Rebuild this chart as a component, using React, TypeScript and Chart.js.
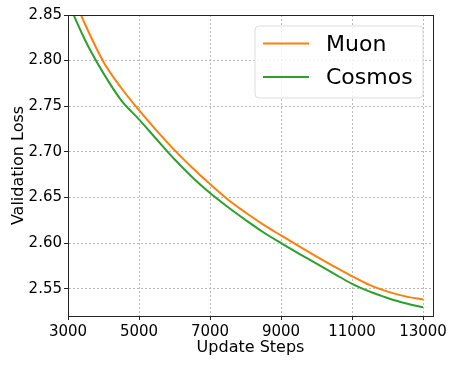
import React, { useEffect, useRef } from "react";
import { Chart, registerables } from "chart.js";

Chart.register(...registerables);

const steps = [3000, 3500, 4000, 4500, 5000, 5500, 6000, 6500, 7000, 7500, 8000, 8500, 9000, 9500, 10000, 10500, 11000, 11500, 12000, 12500, 13000];
const muon = [2.8835, 2.8382, 2.7985, 2.7700, 2.7456, 2.7230, 2.7019, 2.6826, 2.6646, 2.6478, 2.6335, 2.6202, 2.6083, 2.5966, 2.5852, 2.5742, 2.5635, 2.5538, 2.5467, 2.5415, 2.5380];
const cosmos = [2.8640, 2.8210, 2.7860, 2.7565, 2.7355, 2.7135, 2.6918, 2.6722, 2.6548, 2.6395, 2.6253, 2.6118, 2.5999, 2.5885, 2.5774, 2.5662, 2.5553, 2.5467, 2.5398, 2.5339, 2.5295];
const xTicks = [3000, 5000, 7000, 9000, 11000, 13000];
const yTicks = [2.55, 2.6, 2.65, 2.7, 2.75, 2.8, 2.85];
const seriesNames = ["Muon", "Cosmos"];
const seriesColors = ["#ff7f0e", "#2ca02c"];

const FONT = "'DejaVu Sans', sans-serif";

const framePlugin = {
  id: "frameAndLegend",
  afterDraw(chart: any) {
    const { ctx, chartArea } = chart;
    ctx.save();
    ctx.setLineDash([]);
    ctx.strokeStyle = "#222";
    ctx.lineWidth = 1;
    ctx.strokeRect(Math.round(chartArea.left) + 0.5, Math.round(chartArea.top) + 0.5, Math.round(chartArea.right - chartArea.left), Math.round(chartArea.bottom - chartArea.top));
    // legend
    const bx = 255, by = 26, bw = 168, bh = 72, r = 4;
    ctx.beginPath();
    ctx.moveTo(bx + r, by);
    ctx.lineTo(bx + bw - r, by);
    ctx.arcTo(bx + bw, by, bx + bw, by + r, r);
    ctx.lineTo(bx + bw, by + bh - r);
    ctx.arcTo(bx + bw, by + bh, bx + bw - r, by + bh, r);
    ctx.lineTo(bx + r, by + bh);
    ctx.arcTo(bx, by + bh, bx, by + bh - r, r);
    ctx.lineTo(bx, by + r);
    ctx.arcTo(bx, by, bx + r, by, r);
    ctx.closePath();
    ctx.fillStyle = "rgba(255,255,255,0.8)";
    ctx.fill();
    ctx.strokeStyle = "#dddddd";
    ctx.stroke();
    ctx.font = `22px ${FONT}`;
    ctx.textBaseline = "middle";
    ctx.textAlign = "left";
    seriesNames.forEach((name, i) => {
      const y = 43.5 + i * 33.5;
      ctx.strokeStyle = seriesColors[i];
      ctx.lineWidth = 2;
      ctx.beginPath();
      ctx.moveTo(263, y);
      ctx.lineTo(309, y);
      ctx.stroke();
      ctx.fillStyle = "#000";
      ctx.fillText(name, 326, y + 1.5);
    });
    ctx.restore();
  },
};

export default function App() {
  const ref = useRef<HTMLCanvasElement>(null);
  useEffect(() => {
    document.body.style.margin = "0";
    const gridOpts: any = { color: "#a8a8a8", lineWidth: 0.8, tickLength: 4, tickColor: "#222", tickWidth: 1, tickBorderDash: [] };
    const borderOpts: any = { display: true, color: "#222", width: 1, dash: [2, 2] };
    const chart = new Chart(ref.current as HTMLCanvasElement, {
      type: "line",
      data: {
        datasets: [
          { label: seriesNames[0], data: steps.map((s, i) => ({ x: s, y: muon[i] })), borderColor: seriesColors[0], borderWidth: 2, pointRadius: 0, cubicInterpolationMode: "monotone", fill: false },
          { label: seriesNames[1], data: steps.map((s, i) => ({ x: s, y: cosmos[i] })), borderColor: seriesColors[1], borderWidth: 2, pointRadius: 0, cubicInterpolationMode: "monotone", fill: false },
        ],
      },
      options: {
        animation: false,
        responsive: false,
        maintainAspectRatio: false,
        layout: { padding: { top: 15, right: 24, left: 0, bottom: 0 } },
        plugins: { legend: { display: false }, tooltip: { enabled: false } },
        scales: {
          x: {
            type: "linear",
            min: 3000,
            max: 13280,
            afterBuildTicks: (scale: any) => { scale.ticks = xTicks.map((v) => ({ value: v })); },
            afterFit: (scale: any) => { scale.height = 50; },
            ticks: { color: "#000", font: { family: FONT, size: 15 }, padding: 3, maxRotation: 0, autoSkip: false, callback: (v: any) => String(v) },
            grid: gridOpts,
            border: borderOpts,
            title: { display: true, text: "Update Steps", color: "#000", font: { family: FONT, size: 16 }, padding: { top: 0, bottom: 9 } },
          },
          y: {
            type: "linear",
            min: 2.52,
            max: 2.85,
            afterBuildTicks: (scale: any) => { scale.ticks = yTicks.map((v) => ({ value: v })); },
            afterFit: (scale: any) => { scale.width = 68; },
            ticks: { color: "#000", font: { family: FONT, size: 15 }, padding: 2, autoSkip: false, callback: (v: any) => Number(v).toFixed(2) },
            grid: gridOpts,
            border: borderOpts,
            title: { display: true, text: "Validation Loss", color: "#000", font: { family: FONT, size: 16 }, padding: { top: 9, bottom: 0 } },
          },
        },
      },
      plugins: [framePlugin],
    });
    return () => chart.destroy();
  }, []);
  return (
    <div style={{ position: "absolute", left: 0, top: 0, width: 457, height: 366 }}>
      <canvas ref={ref} width={457} height={366} style={{ width: 457, height: 366 }} />
    </div>
  );
}
